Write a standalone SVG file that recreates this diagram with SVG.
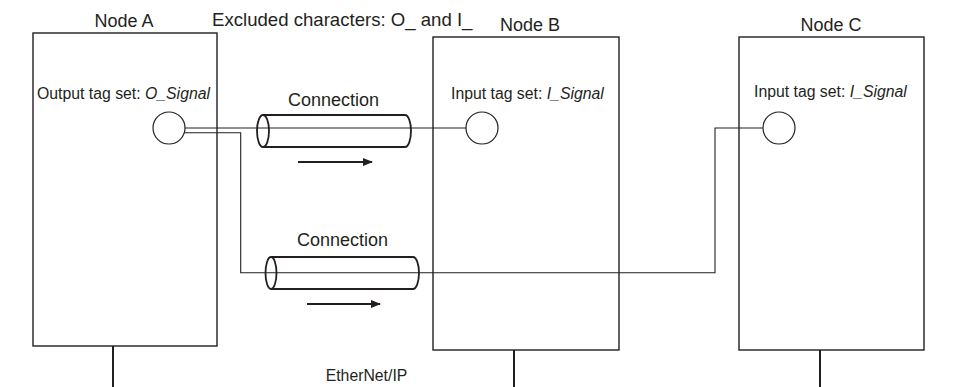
<svg xmlns="http://www.w3.org/2000/svg" width="966" height="387" viewBox="0 0 966 387">
<style>
text{font-family:"Liberation Sans",Arial,sans-serif;fill:#231f20}
.title{font-size:18px}
.tag{font-size:15.8px}
.box{fill:none;stroke:#231f20;stroke-width:1.4}
.port{fill:#fff;stroke:#231f20;stroke-width:1.2}
.wire{fill:none;stroke:#231f20;stroke-width:1.1}
.cyl{fill:none;stroke:#231f20;stroke-width:1.8}
.stub{stroke:#231f20;stroke-width:2}
.arr{stroke:#231f20;stroke-width:2;marker-end:url(#ah)}
</style>
<defs>
<marker id="ah" viewBox="0 0 10 8" refX="9" refY="4" markerWidth="10" markerHeight="8" orient="auto" markerUnits="userSpaceOnUse">
<path d="M0,0 L10,4 L0,8 Z" fill="#231f20"/>
</marker>
</defs>
<rect width="966" height="387" fill="#fff"/>
<text class="title" x="212" y="26" style="font-size:18.6px">Excluded characters: O_ and I_</text>
<g id="connectors">
<path class="wire" d="M185,128 H466"/>
<path class="wire" d="M184.3,132.7 H240.7 V272.7 H715 V128 H763"/>
<g id="cyl1">
<path class="cyl" d="M263,115 H405 A6,16 0 0 1 405,147 H263"/>
<ellipse class="cyl" cx="263" cy="131" rx="6" ry="16"/>
</g>
<text class="title" x="333.5" y="106" text-anchor="middle">Connection</text>
<line class="arr" x1="298" y1="162" x2="372" y2="162"/>
<g id="cyl2">
<path class="cyl" d="M271,257 H413 A6,16 0 0 1 413,289 H271"/>
<ellipse class="cyl" cx="271" cy="273" rx="5.5" ry="16"/>
</g>
<text class="title" x="342.5" y="246" text-anchor="middle">Connection</text>
<line class="arr" x1="307" y1="304" x2="380" y2="304"/>
<line class="stub" x1="113" y1="346" x2="113" y2="387"/>
<line class="stub" x1="514" y1="350" x2="514" y2="387"/>
<line class="stub" x1="820" y1="350" x2="820" y2="387"/>
<text class="tag" x="366.5" y="381" text-anchor="middle">EtherNet/IP</text>
</g>
<g id="nodeA">
<text class="title" x="124" y="27" text-anchor="middle">Node A</text>
<rect class="box" x="33" y="33" width="184" height="313"/>
<text class="tag" x="37" y="99">Output tag set: <tspan font-style="italic">O_Signal</tspan></text>
<circle class="port" cx="169" cy="128" r="16"/>
</g>
<g id="nodeB">
<text class="title" x="530" y="31" text-anchor="middle">Node B</text>
<rect class="box" x="433" y="37" width="186" height="313"/>
<text class="tag" x="451" y="99">Input tag set: <tspan font-style="italic">I_Signal</tspan></text>
<circle class="port" cx="482" cy="128" r="16"/>
</g>
<g id="nodeC">
<text class="title" x="831" y="31" text-anchor="middle">Node C</text>
<rect class="box" x="739" y="37" width="185" height="313"/>
<text class="tag" x="754" y="97">Input tag set: <tspan font-style="italic">I_Signal</tspan></text>
<circle class="port" cx="779" cy="128" r="16"/>
</g>
</svg>
